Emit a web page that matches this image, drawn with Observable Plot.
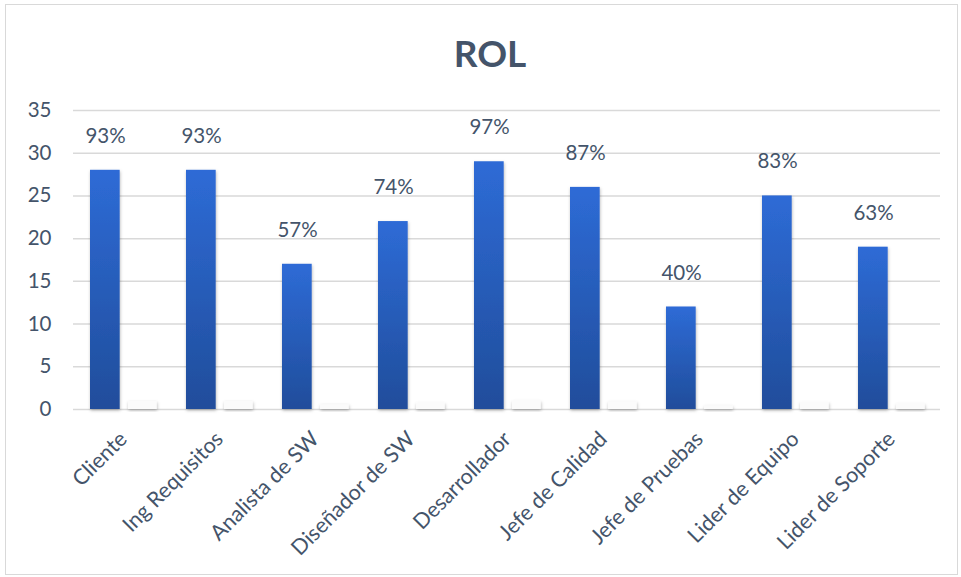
<!DOCTYPE html>
<html>
<head>
<meta charset="utf-8">
<script src="https://cdn.jsdelivr.net/npm/d3@7"></script>
<script src="https://cdn.jsdelivr.net/npm/@observablehq/plot@0.6"></script>
<style>
  html, body { margin: 0; padding: 0; background: #fff; }
  #frame { position: absolute; left: 5px; top: 4px; width: 951px; height: 569px; border: 1px solid #d9d9d9; background: #fff; overflow: hidden; }
  #title { height: 86px; line-height: 96px; text-align: center; font-family: Lato, "Open Sans", sans-serif; font-weight: bold; font-size: 37px; color: #44546A; padding-left: 17px; box-sizing: border-box; }
</style>
</head>
<body>
<div id="frame">
  <div id="title">ROL</div>
  <div id="chart"></div>
</div>
<script>
const categories = ["Cliente", "Ing Requisitos", "Analista de SW", "Diseñador de SW", "Desarrollador", "Jefe de Calidad", "Jefe de Pruebas", "Lider de Equipo", "Lider de Soporte"];
const counts = [28, 28, 17, 22, 29, 26, 12, 25, 19];
const shares = [0.93, 0.93, 0.57, 0.74, 0.97, 0.87, 0.40, 0.83, 0.63];
const yTicks = [0, 5, 10, 15, 20, 25, 30, 35];

const rows = categories.map((c, i) => ({category: c, count: counts[i], share: shares[i]}));

const textColor = "#44546A";
const font = "Lato, 'Open Sans', sans-serif";

const chart = Plot.plot({
  width: 951,
  height: 478,
  marginTop: 19,
  marginBottom: 160,
  marginLeft: 67,
  marginRight: 17,
  style: {fontFamily: font, color: textColor, background: "transparent", overflow: "visible"},
  x: {domain: categories, padding: 0, label: null},
  y: {domain: [0, 35], ticks: yTicks, label: null},
  marks: [
    Plot.ruleY(yTicks, {stroke: "#d9d9d9", strokeWidth: 1.5}),
    Plot.axisY({ticks: yTicks, tickSize: 0, tickPadding: 22, fill: textColor, label: null, className: "yax"}),
    Plot.axisX({tickSize: 0, tickPadding: 26, tickRotate: -45, fill: textColor, label: null, className: "xax"}),
    Plot.barY(rows, {x: "category", y: "count", insetLeft: 15, insetRight: 51.3, fill: "url(#barGrad)", className: "bar-main"}),
    Plot.barY(rows, {x: "category", y: "share", insetLeft: 53, insetRight: 14.3, fill: "#fbfbfb", className: "bar-share"}),
    Plot.text(rows, {x: "category", y: "count", text: d => Math.round(d.share * 100) + "%", dx: -18, dy: -34, fontSize: 20.5, fill: textColor, fontFamily: font})
  ]
});

const svg = d3.select(chart);
svg.selectAll("g.yax").attr("font-size", 20.5);
svg.selectAll("g.xax").attr("font-size", 21.5);
const defs = svg.insert("defs", ":first-child");
const grad = defs.append("linearGradient").attr("id", "barGrad").attr("x1", 0).attr("y1", 0).attr("x2", 0).attr("y2", 1);
grad.append("stop").attr("offset", "0%").attr("stop-color", "#2E6BD6");
grad.append("stop").attr("offset", "100%").attr("stop-color", "#204D9B");
const filt = defs.append("filter").attr("id", "shadow").attr("x", "-30%").attr("y", "-30%").attr("width", "160%").attr("height", "160%");
filt.append("feDropShadow").attr("dx", 0.5).attr("dy", 1.5).attr("stdDeviation", 1.6).attr("flood-color", "#000").attr("flood-opacity", 0.28);
svg.selectAll("g.bar-main, g.bar-share").attr("filter", "url(#shadow)");

document.getElementById("chart").appendChild(chart);
</script>
</body>
</html>
